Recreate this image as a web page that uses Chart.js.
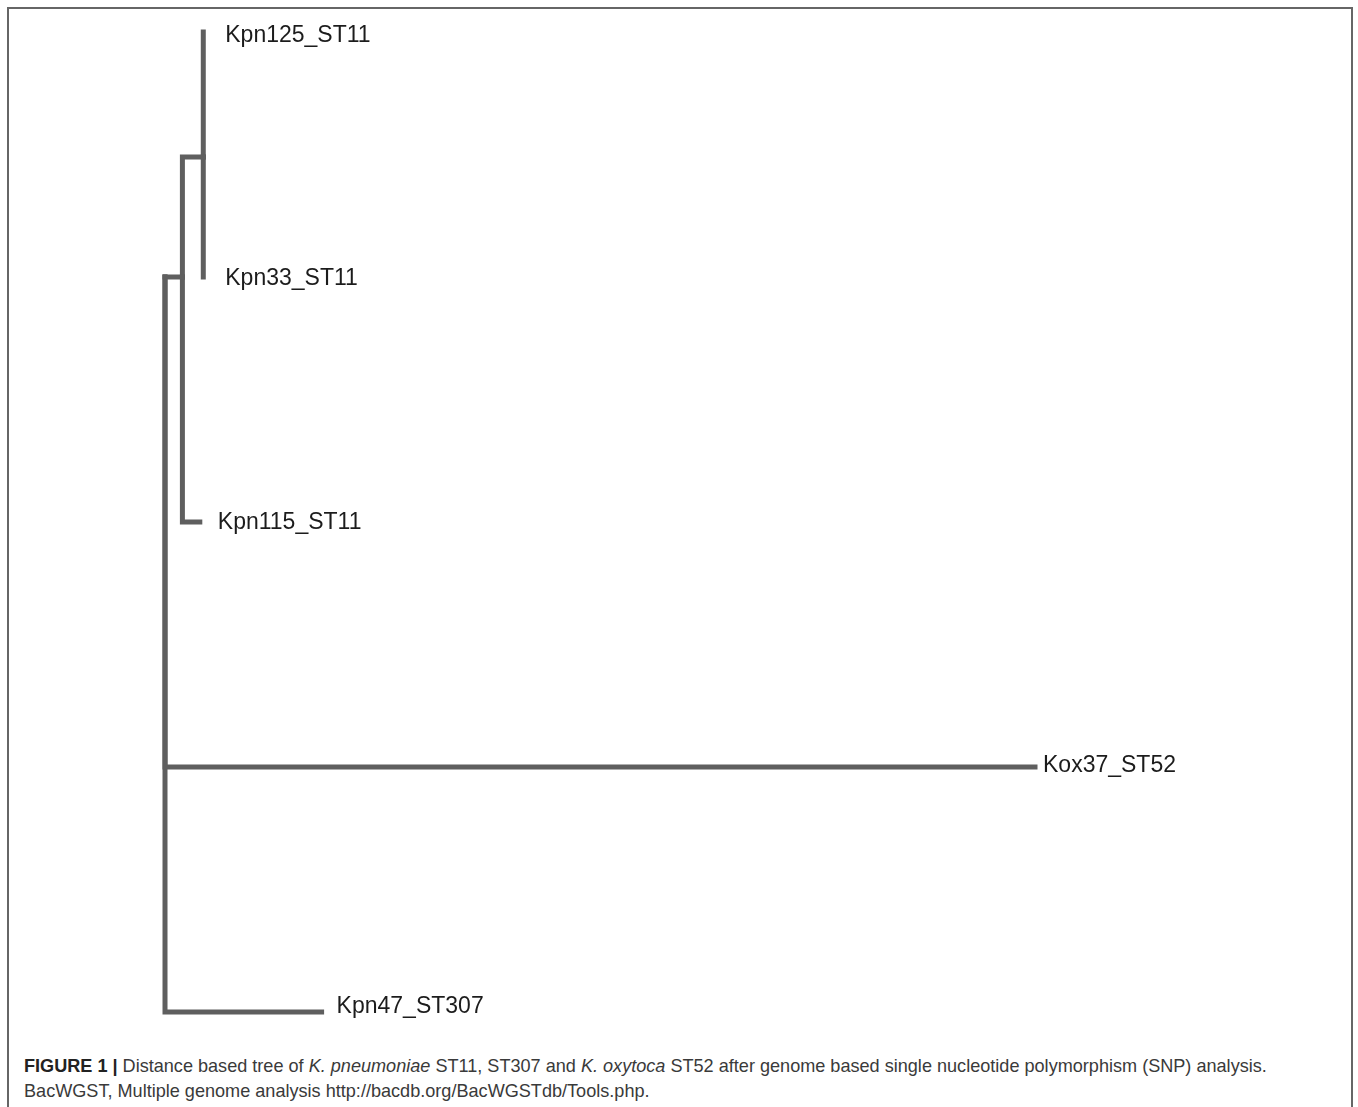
<!DOCTYPE html>
<html>
<head>
<meta charset="utf-8">
<script src="https://cdn.jsdelivr.net/npm/chart.js@4/dist/chart.umd.min.js"></script>
<style>
  html, body { margin: 0; padding: 0; background: #fff; overflow: hidden; }
  #frame { position: absolute; left: 7px; top: 7px; width: 1346px; height: 1200px;
           border: 2px solid #666; border-bottom: none; box-sizing: border-box; }
  #wrap { position: absolute; left: 0; top: 0; width: 1358px; height: 1040px; }
  #caption { position: absolute; left: 24px; top: 1054px; width: 1330px;
             font-family: "Liberation Sans", Arial, sans-serif; font-size: 18.1px;
             line-height: 25px; color: #3a3a3a; white-space: nowrap; }
  #caption b { color: #222; }
</style>
</head>
<body>
<div id="frame"></div>
<div id="wrap"><canvas id="c" width="1358" height="1040"></canvas></div>
<div id="caption"><b>FIGURE 1 |</b> Distance based tree of <i>K. pneumoniae</i> ST11, ST307 and <i>K. oxytoca</i> ST52 after genome based single nucleotide polymorphism (SNP) analysis.<br>BacWGST, Multiple genome analysis http://bacdb.org/BacWGSTdb/Tools.php.</div>
<script>
// Tree nodes
const nodeNames   = ['root', 'n1', 'n2', 'Kpn125_ST11', 'Kpn33_ST11', 'Kpn115_ST11', 'Kox37_ST52', 'Kpn47_ST307'];
const nodeParents = [null, 'root', 'n1', 'n2', 'n2', 'n1', 'root', 'root'];
// cumulative distance from root (arbitrary units, Kox37 = 100)
const nodeDist    = [0, 2.0, 4.4, 4.4, 4.4, 4.0, 100, 18.0];
// vertical position (leaf rows 0..4)
const nodeRow     = [1.0, 1.0, 0.51, 0, 1.0, 2, 3, 4];
const leafNames   = ['Kpn125_ST11', 'Kpn33_ST11', 'Kpn115_ST11', 'Kox37_ST52', 'Kpn47_ST307'];

const idx = n => nodeNames.indexOf(n);
const datasets = [];
nodeNames.forEach((name, i) => {
  const p = nodeParents[i];
  if (p === null) return;
  const pi = idx(p);
  datasets.push({
    label: name,
    data: [
      { x: nodeDist[pi], y: nodeRow[pi] },
      { x: nodeDist[pi], y: nodeRow[i] },
      { x: nodeDist[i],  y: nodeRow[i] }
    ],
    showLine: true,
    borderColor: '#5f5f5f',
    borderWidth: 5,
    borderCapStyle: 'square',
    borderJoinStyle: 'miter',
    pointRadius: 0,
    pointHoverRadius: 0,
    tension: 0,
    fill: false
  });
});

const labelGap = { 'Kpn125_ST11': 22, 'Kpn33_ST11': 22, 'Kpn115_ST11': 18, 'Kox37_ST52': 8, 'Kpn47_ST307': 15 };
const labelDy  = { 'Kpn125_ST11': 4, 'Kpn33_ST11': 2, 'Kpn115_ST11': 1, 'Kox37_ST52': -1, 'Kpn47_ST307': -5 };

const tipLabels = {
  id: 'tipLabels',
  afterDatasetsDraw(chart) {
    const ctx = chart.ctx;
    const xs = chart.scales.x, ys = chart.scales.y;
    ctx.save();
    ctx.font = '23px "Liberation Sans", Arial, sans-serif';
    ctx.fillStyle = '#1c1c1c';
    ctx.textBaseline = 'middle';
    ctx.textAlign = 'left';
    leafNames.forEach(n => {
      const i = idx(n);
      const px = xs.getPixelForValue(nodeDist[i]) + labelGap[n];
      const py = ys.getPixelForValue(nodeRow[i]) + labelDy[n];
      ctx.fillText(n, px, py);
    });
    ctx.restore();
  }
};

new Chart(document.getElementById('c'), {
  type: 'scatter',
  data: { datasets },
  options: {
    responsive: false,
    animation: false,
    layout: { padding: 0 },
    plugins: { legend: { display: false }, tooltip: { enabled: false } },
    scales: {
      x: { type: 'linear', display: false, min: -18.966, max: 137.126 },
      y: { type: 'linear', display: false, reverse: true, min: -0.1306, max: 4.1143 }
    }
  },
  plugins: [tipLabels]
});
</script>
</body>
</html>
